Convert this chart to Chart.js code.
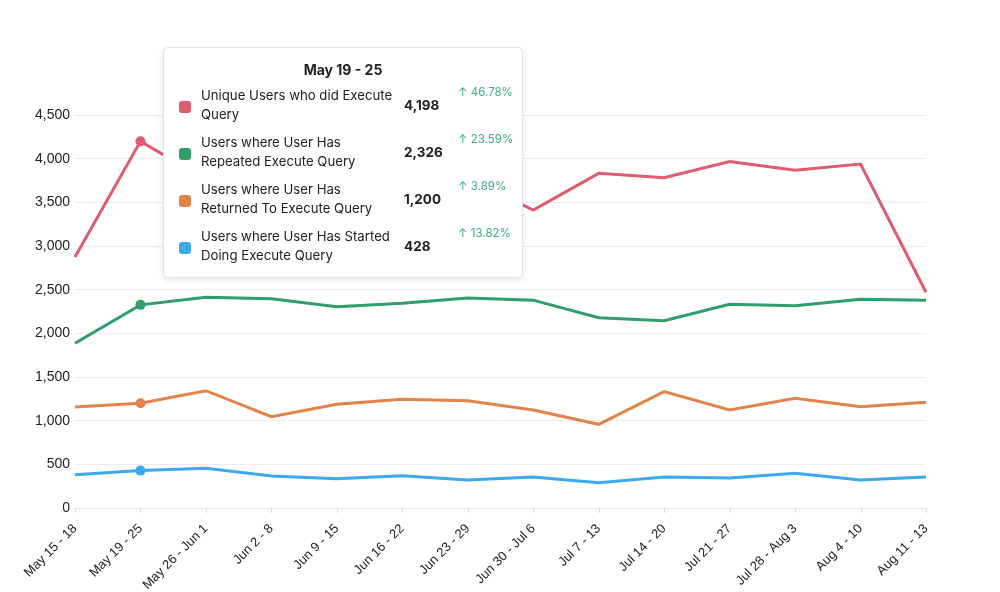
<!DOCTYPE html>
<html>
<head>
<meta charset="utf-8">
<script src="https://cdn.jsdelivr.net/npm/chart.js@4.4.1/dist/chart.umd.min.js"></script>
<style>
  html, body { margin: 0; padding: 0; background: #fff; }
  #wrap { position: relative; width: 1000px; height: 592px; font-family: Inter, "Noto Sans", sans-serif; }
  #tip {
    position: absolute; left: 163px; top: 47px; width: 360px; height: 231px;
    background: #fff; border: 1px solid #e3e3e6; border-radius: 5px;
    box-shadow: 0 2px 6px rgba(0,0,0,0.10); box-sizing: border-box;
    color: #222; font-size: 13.2px;
  }
  #tip .title { position: absolute; left: 0; right: 0; top: 13px; text-align: center; font-weight: 700; font-size: 14px; }
  #tip .row { position: absolute; left: 0; right: 0; height: 40px; }
  #tip .sw { position: absolute; left: 15px; top: 15px; width: 12px; height: 12px; border-radius: 3px; }
  #tip .lbl { position: absolute; left: 37px; top: 0; width: 200px; line-height: 19px; }
  #tip .val { position: absolute; left: 240px; top: 11px; font-weight: 700; font-size: 13.5px; }
  #tip .pct { position: absolute; left: 294px; top: -1px; font-size: 11.5px; color: #3fae76; }
</style>
</head>
<body>
<div id="wrap">
  <canvas id="grafico" width="1000" height="592"></canvas>
  <div id="tip"></div>
</div>
<script>
// semanas del eje x
const semanas = ["May 15 - 18", "May 19 - 25", "May 26 - Jun 1", "Jun 2 - 8", "Jun 9 - 15", "Jun 16 - 22",
  "Jun 23 - 29", "Jun 30 - Jul 6", "Jul 7 - 13", "Jul 14 - 20", "Jul 21 - 27", "Jul 28 - Aug 3",
  "Aug 4 - 10", "Aug 11 - 13"];

const nombres = [
  "Unique Users who did Execute Query",
  "Users where User Has Repeated Execute Query",
  "Users where User Has Returned To Execute Query",
  "Users where User Has Started Doing Execute Query"
];
const colores = ["#de5b70", "#2f9e6a", "#e2834b", "#3aaaee"];

const unicos    = [2874, 4198, 3760, 3650, 3560, 3600, 3780, 3412, 3832, 3782, 3966, 3867, 3939, 2470];
const repetidos = [1886, 2326, 2413, 2397, 2305, 2344, 2405, 2380, 2179, 2145, 2333, 2317, 2390, 2378];
const regresan  = [1157, 1200, 1343, 1046, 1187, 1245, 1229, 1122, 958, 1332, 1122, 1256, 1160, 1210];
const nuevos    = [381, 428, 455, 366, 336, 370, 321, 355, 290, 355, 343, 397, 321, 355];

const cambios = ["46.78%", "23.59%", "3.89%", "13.82%"];
const ticksY = [0, 500, 1000, 1500, 2000, 2500, 3000, 3500, 4000, 4500];
const indiceActivo = 1; // semana mostrada en el tooltip

const series = [unicos, repetidos, regresan, nuevos];

const ctx = document.getElementById("grafico").getContext("2d");
const grafico = new Chart(ctx, {
  type: "line",
  data: {
    labels: semanas,
    datasets: series.map((s, i) => ({
      label: nombres[i],
      data: s,
      borderColor: colores[i],
      backgroundColor: colores[i],
      borderWidth: 3,
      tension: 0,
      pointRadius: s.map((v, j) => j === indiceActivo ? 5 : 0),
      pointBorderWidth: 0
    }))
  },
  options: {
    responsive: false,
    animation: false,
    layout: { padding: { top: 115, right: 74, left: 0, bottom: 0 } },
    plugins: {
      legend: { display: false },
      tooltip: { enabled: false }
    },
    scales: {
      x: {
        grid: { display: false, drawTicks: true },
        border: { color: "#e6e6e6" },
        ticks: {
          color: "#222",
          font: { family: "Liberation Sans", size: 13 },
          minRotation: 45, maxRotation: 45,
          padding: 5
        },
        afterFit: (s) => { s.height = 84; }
      },
      y: {
        min: 0, max: 4500,
        afterBuildTicks: (s) => { s.ticks = ticksY.map(v => ({ value: v })); },
        grid: { color: "#ececef", drawTicks: false },
        border: { display: false },
        ticks: {
          color: "#222",
          font: { family: "Liberation Sans", size: 14 },
          padding: 5,
          callback: (v) => v.toLocaleString("en-US")
        },
        afterFit: (s) => { s.width = 75; }
      }
    }
  },
  plugins: [{
    // marcas pequeñas bajo el eje x
    id: "marcasX",
    afterDraw(chart) {
      const c = chart.ctx, x = chart.scales.x, y0 = chart.chartArea.bottom;
      c.save();
      c.strokeStyle = "#dcdcdc";
      c.lineWidth = 1;
      semanas.forEach((_, i) => {
        const px = Math.round(x.getPixelForValue(i)) + 0.5;
        c.beginPath(); c.moveTo(px, y0); c.lineTo(px, y0 + 5); c.stroke();
      });
      c.restore();
    }
  }]
});

// tooltip fijo con los valores de la semana activa
const tip = document.getElementById("tip");
let html = `<div class="title">${semanas[indiceActivo]}</div>`;
series.forEach((s, i) => {
  html += `<div class="row" style="top:${38 + i * 47}px">
    <div class="sw" style="background:${colores[i]}"></div>
    <div class="lbl">${nombres[i]}</div>
    <div class="val">${s[indiceActivo].toLocaleString("en-US")}</div>
    <div class="pct">&#8593; ${cambios[i]}</div>
  </div>`;
});
tip.innerHTML = html;
</script>
</body>
</html>
